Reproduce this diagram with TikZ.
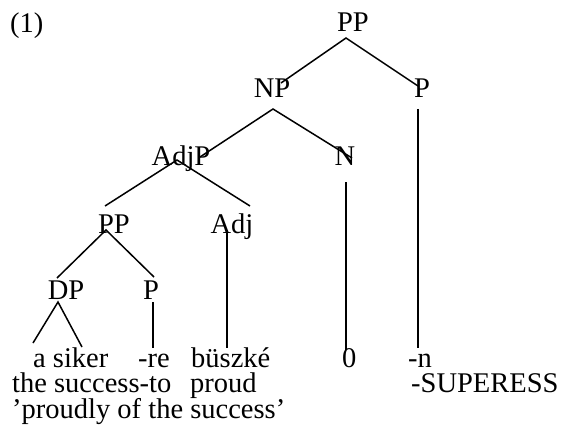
\documentclass[tikz,border=0pt]{standalone}
\usepackage{fontspec}
\setmainfont{Liberation Serif}
\begin{document}
\begin{tikzpicture}[x=1pt,y=-1pt,
  lab/.style={inner sep=0pt,anchor=base,font=\fontsize{28.5}{30}\selectfont},
  word/.style={inner sep=0pt,anchor=base west,font=\fontsize{28.5}{30}\selectfont},
  edge/.style={line width=1.5pt,line cap=butt}]
\useasboundingbox (0,0) rectangle (562,441);
% labels
\node[word] (ex) at (10,33) {(1)};
\node[lab] (pp1) at (353,32) {PP};
\node[lab] (np) at (272,98) {NP};
\node[lab] (p1) at (422,98) {P};
\node[lab] (adjp) at (181,165) {AdjP};
\node[lab] (n) at (345,165) {N};
\node[lab] (pp2) at (114,233) {PP};
\node[lab] (adj) at (232,233) {Adj};
\node[lab] (dp) at (66,299) {DP};
\node[lab] (p2) at (151,299) {P};
% words
\node[word] (w1) at (33,367) {a siker};
\node[word] (w2) at (138,367) {-re};
\node[word] (w3) at (191,367) {büszké};
\node[word] (w4) at (342,367) {0};
\node[word] (w5) at (408,367) {-n};
\node[word] (g1) at (12,392) {the success-to};
\node[word] (g2) at (190,392) {proud};
\node[word] (g3) at (411,392) {-SUPERESS};
\node[word] (tr) at (12,418) {’proudly of the success’};
% connector ends
\coordinate (a1) at (346,38);
\coordinate (a1l) at (281,83);
\coordinate (a1r) at (418,86);
\coordinate (a2) at (273,109);
\coordinate (a2l) at (200,157);
\coordinate (a2r) at (352,158);
\coordinate (a3) at (177,160);
\coordinate (a3l) at (105,206);
\coordinate (a3r) at (250,206);
\coordinate (v1t) at (418,109);
\coordinate (v1b) at (418,348);
\coordinate (v2t) at (346,182);
\coordinate (v2b) at (346,350);
\coordinate (a4) at (106,230);
\coordinate (a4l) at (57,278);
\coordinate (a4r) at (154,277);
\coordinate (v3t) at (227,230);
\coordinate (v3b) at (227,348);
\coordinate (a5) at (58,302);
\coordinate (a5l) at (33,343);
\coordinate (a5r) at (82,347);
\coordinate (v4t) at (153,302);
\coordinate (v4b) at (153,348);
% connectors
\draw[edge] (a1l) -- (a1) -- (a1r);
\draw[edge] (a2l) -- (a2) -- (a2r);
\draw[edge] (a3l) -- (a3) -- (a3r);
\draw[edge] (a4l) -- (a4) -- (a4r);
\draw[edge] (a5l) -- (a5) -- (a5r);
\draw[edge] (v1t) -- (v1b);
\draw[edge] (v2t) -- (v2b);
\draw[edge] (v3t) -- (v3b);
\draw[edge] (v4t) -- (v4b);
\end{tikzpicture}
\end{document}
